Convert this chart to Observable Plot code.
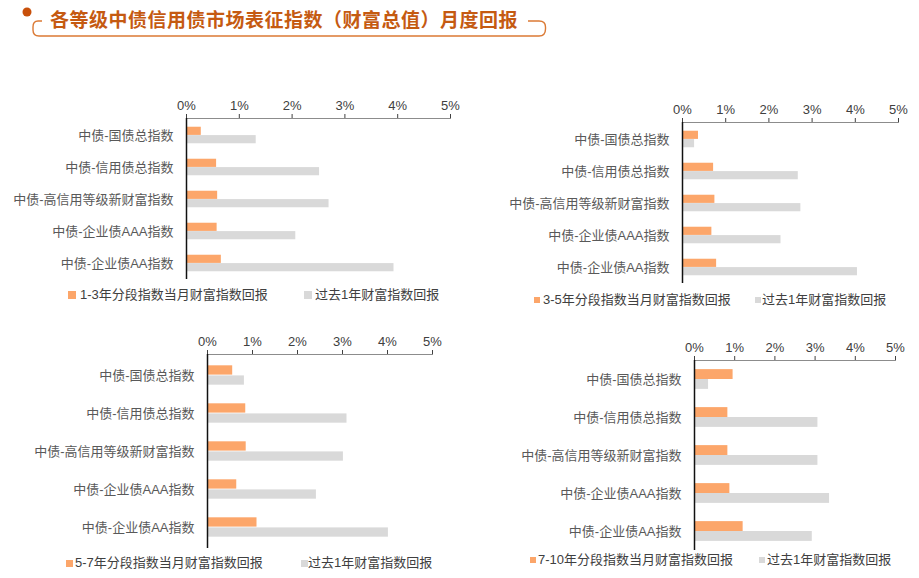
<!DOCTYPE html>
<html>
<head>
<meta charset="utf-8">
<script src="https://cdn.jsdelivr.net/npm/d3@7"></script>
<script src="https://cdn.jsdelivr.net/npm/@observablehq/plot@0.6"></script>
<style>
  html, body { margin: 0; padding: 0; background: #fff; }
  #root { position: relative; width: 919px; height: 578px; overflow: hidden; background: #fff;
          font-family: "Liberation Sans", "Noto Sans CJK SC", sans-serif; }
  .panel { position: absolute; }
  .legend { position: absolute; font-size: 13px; color: #404040; white-space: nowrap; line-height: 16px; }
  .sw { position: absolute; }
  .title { position: absolute; left: 50px; top: 5px; font-size: 19px; font-weight: bold; color: #C55A11;
           font-family: "Noto Sans CJK SC", sans-serif; letter-spacing: 0.5px; white-space: nowrap; }
  [aria-label^="x-axis"] { color: #404040; }
</style>
</head>
<body>
<div id="root"></div>
<script>
// ---- data ----
const categories = ["中债-国债总指数", "中债-信用债总指数", "中债-高信用等级新财富指数", "中债-企业债AAA指数", "中债-企业债AA指数"];
const xTicks = [0, 1, 2, 3, 4, 5];
const seriesYear = "过去1年财富指数回报";

const label13 = "1-3年分段指数当月财富指数回报";
const monthly13 = [0.28, 0.57, 0.59, 0.58, 0.66];
const year13 = [1.32, 2.52, 2.70, 2.07, 3.93];

const label35 = "3-5年分段指数当月财富指数回报";
const monthly35 = [0.37, 0.72, 0.75, 0.68, 0.79];
const year35 = [0.28, 2.68, 2.74, 2.28, 4.05];

const label57 = "5-7年分段指数当月财富指数回报";
const monthly57 = [0.56, 0.85, 0.86, 0.65, 1.10];
const year57 = [0.82, 3.10, 3.02, 2.42, 4.02];

const label710 = "7-10年分段指数当月财富指数回报";
const monthly710 = [0.96, 0.83, 0.83, 0.88, 1.21];
const year710 = [0.35, 3.07, 3.07, 3.36, 2.93];

const titleText = "各等级中债信用债市场表征指数（财富总值）月度回报";

// ---- style ----
const ORANGE = "#FCA66A";
const GRAY = "#D9D9D9";
const root = document.getElementById("root");

// title decoration
const ns = "http://www.w3.org/2000/svg";
const deco = document.createElementNS(ns, "svg");
deco.setAttribute("width", 919); deco.setAttribute("height", 45);
deco.style.position = "absolute"; deco.style.left = "0"; deco.style.top = "0";
deco.innerHTML = `
  <circle cx="27" cy="12" r="4.5" fill="#C8500A"></circle>
  <path d="M42,21 L38,21 Q33,21 33,27 L33,30 Q33,36 39,36 L539,36 Q545.5,36 545.5,29 L545.5,27 Q545.5,21 539,21 L528,21"
        fill="none" stroke="#DB7A35" stroke-width="1.4"></path>`;
root.appendChild(deco);
const t = document.createElement("div");
t.className = "title"; t.textContent = titleText;
root.appendChild(t);

function panel(o) {
  const rows = categories.map((c, i) => ({cat: c, m: o.monthly[i], y: o.yearly[i]}));
  const bw = (o.height - o.mt - o.mb) / categories.length;
  const th = bw * 0.26;
  const chart = Plot.plot({
    width: o.width, height: o.height,
    marginLeft: o.ml, marginRight: o.mr, marginTop: o.mt, marginBottom: o.mb,
    style: {fontFamily: '"Liberation Sans", "Noto Sans CJK SC", sans-serif', fontSize: "13px", color: "#595959", background: "transparent", overflow: "visible"},
    x: {domain: [0, 5], axis: "top", ticks: xTicks, tickFormat: d => d + "%", tickSize: 5, tickPadding: 4, label: null},
    y: {domain: categories, axis: "left", tickSize: 0, tickPadding: 13, label: null, padding: 0},
    marks: [
      Plot.barX(rows, {x: "m", y: "cat", fill: ORANGE, insetTop: bw / 2 - th, insetBottom: bw / 2}),
      Plot.barX(rows, {x: "y", y: "cat", fill: GRAY, insetTop: bw / 2, insetBottom: bw / 2 - th}),
      Plot.frame({anchor: "top", stroke: "#8c8c8c"}),
      Plot.ruleX([0], {stroke: "#111", strokeWidth: 1.5})
    ]
  });
  const wrap = document.createElement("div");
  wrap.className = "panel";
  wrap.style.left = o.left + "px"; wrap.style.top = o.top + "px";
  wrap.appendChild(chart);
  root.appendChild(wrap);

  // legend
  const items = [[o.label, ORANGE, o.leg[0], o.leg[1]], [seriesYear, GRAY, o.leg[2], o.leg[3]]];
  for (const [txt, col, sx, tx] of items) {
    const sw = document.createElement("div");
    sw.className = "sw";
    sw.style.left = sx + "px"; sw.style.top = (o.legY - o.sq / 2) + "px";
    sw.style.width = o.sq + "px"; sw.style.height = o.sq + "px"; sw.style.background = col;
    root.appendChild(sw);
    const lt = document.createElement("div");
    lt.className = "legend";
    lt.style.left = tx + "px"; lt.style.top = (o.legY - 8) + "px";
    lt.textContent = txt;
    root.appendChild(lt);
  }
}

panel({left: 0, top: 90, width: 460, height: 200, ml: 186, mr: 10, mt: 28, mb: 11,
       monthly: monthly13, yearly: year13, label: label13, legY: 295, sq: 8, leg: [68, 80, 304, 315]});
panel({left: 500, top: 95, width: 419, height: 200, ml: 182, mr: 21, mt: 27, mb: 12,
       monthly: monthly35, yearly: year35, label: label35, legY: 300, sq: 6, leg: [534, 543, 755, 762]});
panel({left: 0, top: 325, width: 460, height: 230, ml: 207, mr: 28, mt: 29, mb: 7,
       monthly: monthly57, yearly: year57, label: label57, legY: 563, sq: 7, leg: [66, 75, 301, 308]});
panel({left: 500, top: 330, width: 419, height: 230, ml: 194, mr: 24, mt: 30, mb: 10,
       monthly: monthly710, yearly: year710, label: label710, legY: 560, sq: 6, leg: [530, 538, 759, 767]});
</script>
</body>
</html>
